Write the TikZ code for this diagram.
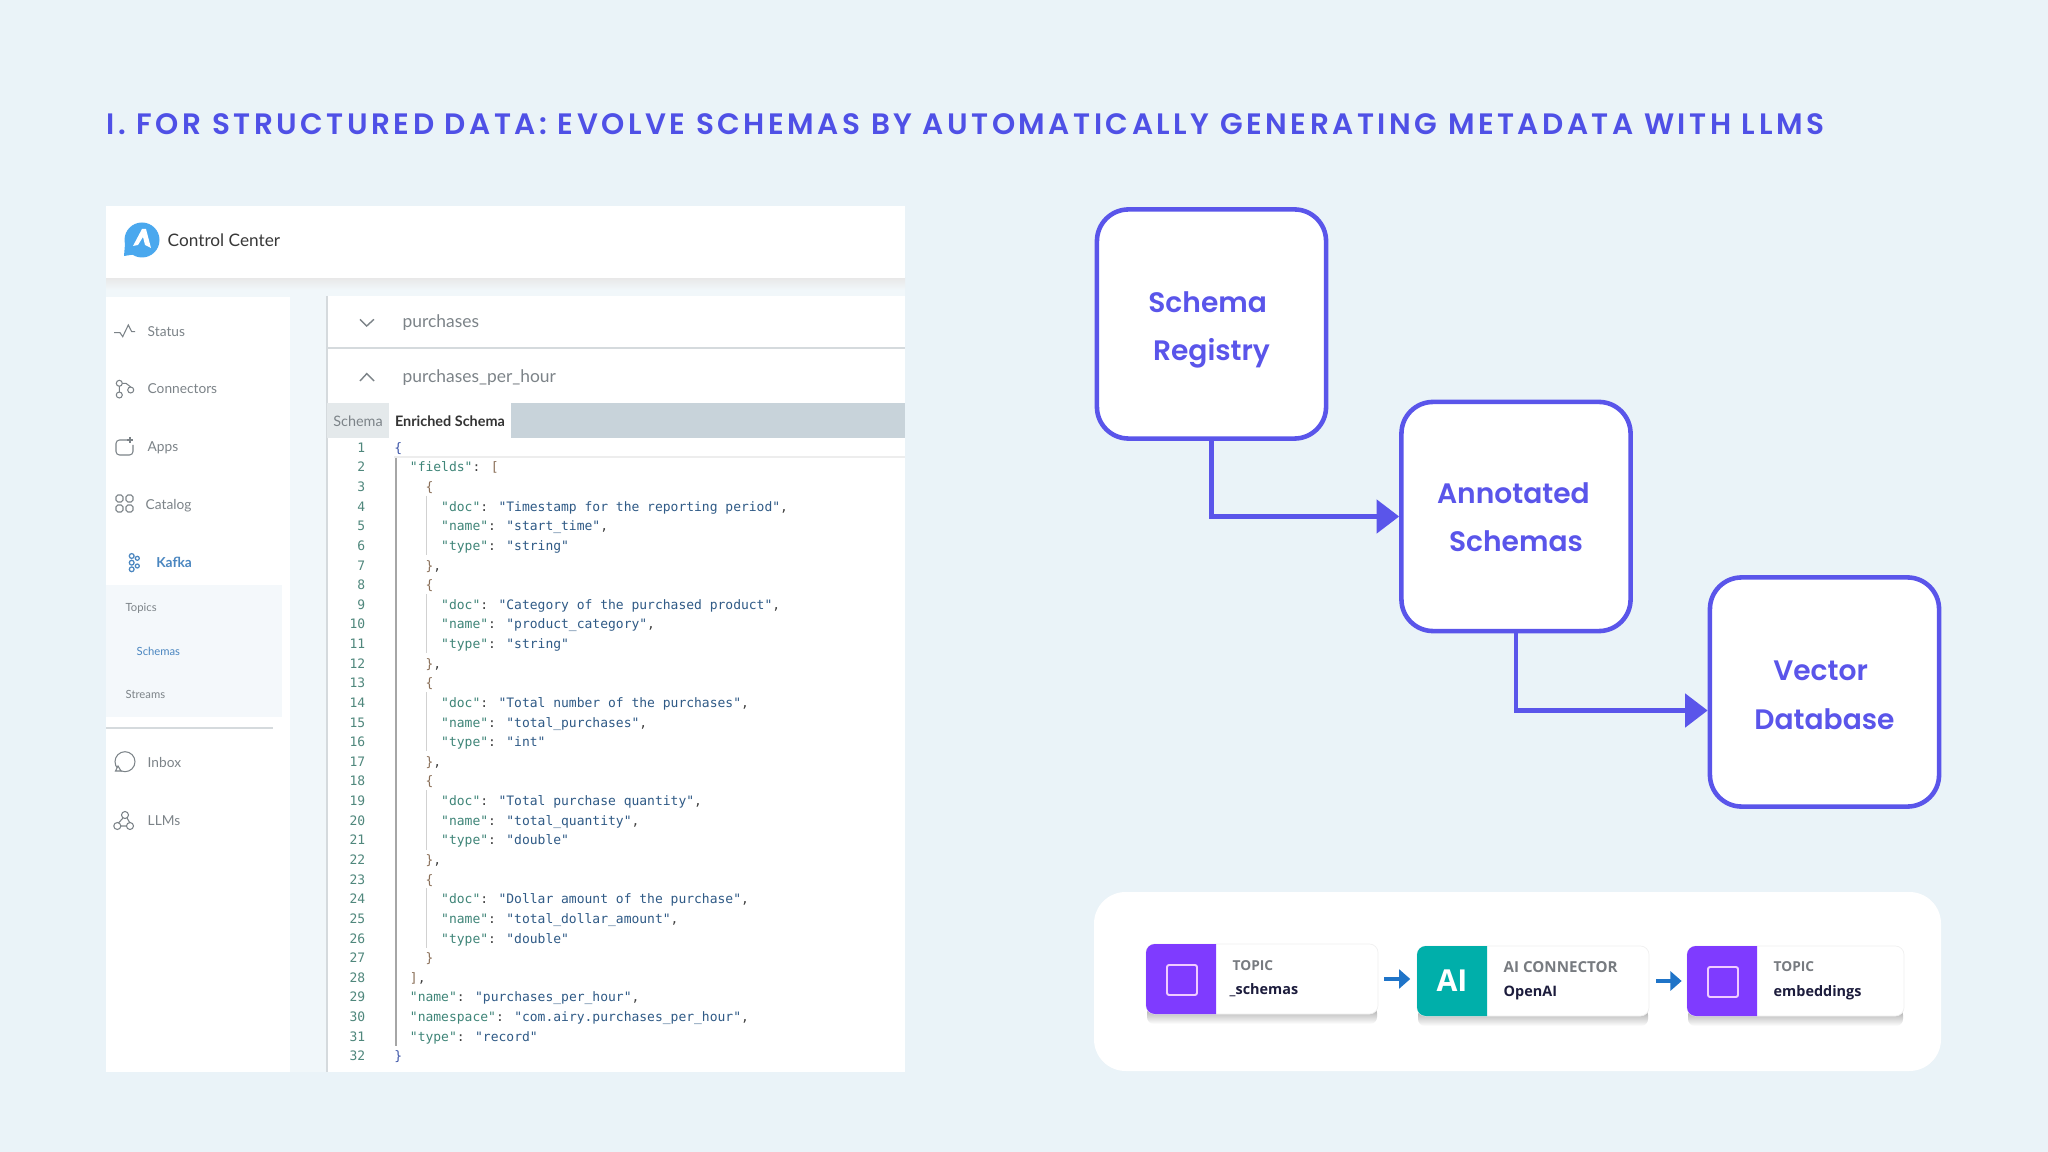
\documentclass[tikz,border=0pt]{standalone}
\usepackage{fontspec}
\usepackage{tikz}
\usetikzlibrary{arrows.meta}
\setmainfont{Lato}
\newfontfamily\dmfont[BoldFont={Poppins SemiBold}]{Poppins}
\newfontfamily\titlefont[LetterSpace=11.9,BoldFont={Poppins SemiBold}]{Poppins}
\newfontfamily\codefont{DejaVu Sans Mono}
\newfontfamily\cardfont{Open Sans}
\definecolor{pagebg}{HTML}{EAF3F8}
\definecolor{indigo}{HTML}{5A55EA}
\definecolor{titleblue}{HTML}{4F50E6}
\definecolor{gapblue}{HTML}{F1F7FA}
\definecolor{subbg}{HTML}{F4F8FB}
\definecolor{uigrey}{HTML}{7C8388}
\definecolor{uiline}{HTML}{D5DADD}
\definecolor{tabgrey}{HTML}{C8D3DA}
\definecolor{tablight}{HTML}{E4E9EB}
\definecolor{kafkablue}{HTML}{4A86C0}
\definecolor{logoblue}{HTML}{4AA8EE}
\definecolor{numgreen}{HTML}{4F877C}
\definecolor{keygreen}{HTML}{3F8578}
\definecolor{strblue}{HTML}{2F5A86}
\definecolor{bracebrown}{HTML}{8A6F58}
\definecolor{braceblue}{HTML}{3C55A8}
\definecolor{cardpurple}{HTML}{7F3BFF}
\definecolor{cardteal}{HTML}{00AFAA}
\definecolor{cardlav}{HTML}{F0CCFF}
\definecolor{arrowblue}{HTML}{1F74C8}
\definecolor{cardgrey}{HTML}{777B80}
\definecolor{cardink}{HTML}{1C1C3C}

\tikzset{
	flowbox/.style={draw=indigo,fill=white,line width=1.3pt,rounded corners=9pt,minimum width=2.29cm,minimum height=2.29cm,inner sep=0pt,align=center,text=indigo,font=\dmfont\bfseries\fontsize{8}{13.7}\selectfont},
	flowarrow/.style={draw=indigo,line width=1.3pt,->},
	card/.style={fill=white,draw=black!6,line width=.2pt,rounded corners=2.5pt,inner sep=0pt,minimum height=.7cm},
	cardshadow/.style={top color=black!38,bottom color=white,rounded corners=2pt},
	cardarrow/.style={draw=arrowblue,line width=1.1pt,-{Triangle[length=3.2pt,width=5.4pt]}},
	cardlabel/.style={anchor=west,inner sep=0pt,font=\cardfont\bfseries\fontsize{4.3}{5}\selectfont,text=cardgrey},
	cardname/.style={anchor=west,inner sep=0pt,font=\cardfont\bfseries\fontsize{4.1}{5}\selectfont,text=cardink},
	menuitem/.style={anchor=west,inner sep=0pt,text=uigrey,text height=3.2pt,text depth=.4pt,font=\fontsize{3.9}{5}\selectfont},
	submenu/.style={anchor=west,inner sep=0pt,text=uigrey,text height=3pt,text depth=.4pt,font=\fontsize{3.2}{4}\selectfont},
	rowlabel/.style={anchor=west,inner sep=0pt,text=uigrey,text height=3.4pt,text depth=.4pt,font=\fontsize{4.95}{6}\selectfont},
	tablabel/.style={inner sep=0pt,text height=3.4pt,text depth=.4pt,font=\fontsize{4.1}{5}\selectfont},
	icon/.style={draw=uigrey,line width=.3pt},
	linenum/.style={anchor=east,inner sep=0pt,text=numgreen,text height=3.4pt,text depth=.4pt,font=\codefont\fontsize{3.7}{4}\selectfont},
	codetext/.style={anchor=west,inner sep=0pt,text=black!75,text height=3.4pt,text depth=.4pt,font=\codefont\fontsize{3.695}{4}\selectfont},
	guide/.style={draw=black!18,line width=.25pt}
}

\newcommand{\ck}[1]{\textcolor{keygreen}{#1}}
\newcommand{\cs}[1]{\textcolor{strblue}{#1}}
\newcommand{\cb}[1]{\textcolor{bracebrown}{#1}}
\newcommand{\flowend}{\rule[-1.6pt]{0pt}{1.6pt}}
\newcommand{\codeline}[3]{
	\node[linenum] (num#1) at (366,{447+19.63*(#1-1)}) {#1};
	\node[codetext] (code#1) at ({393.6+7.82*#2},{447+19.63*(#1-1)}) {#3};
}
\newcommand{\fieldguide}[1]{
	\draw[guide] (426.8,{437+19.63*(#1-1)})--(426.8,{457+19.63*(#1+1)});
}

\begin{document}
\begin{tikzpicture}[>={Triangle[length=6.4pt,width=9.4pt]},x=.01cm,y=-.01cm]

	\useasboundingbox (0,0) rectangle (2048,1152);
	\fill[pagebg] (0,0) rectangle (2048,1152);

	\node[anchor=west,inner sep=0pt,text=titleblue,font=\titlefont\bfseries\fontsize{8.4}{10}\selectfont] (title) at (106,124.5) {I. FOR STRUCTURED DATA: EVOLVE SCHEMAS BY AUTOMATICALLY GENERATING METADATA WITH LLMS};

	% control center
	\fill[gapblue] (106,278) rectangle (905,1072);
	\shade[top color=black!9,bottom color=gapblue] (106,278) rectangle (905,290);
	\fill[white] (106,206) rectangle (905,278);
	\fill[white] (106,297) rectangle (290,1072);
	\fill[white] (327,296) rectangle (905,1072);
	\fill[subbg] (106,585) rectangle (282,717);
	\draw[uiline,line width=.3pt] (106,728)--(273,728);
	\draw[uiline,line width=.4pt] (327,296)--(327,1072);
	\draw[uiline,line width=.3pt] (327,348)--(905,348);

	% logo
	\fill[logoblue] (142,240) circle (17.5);
	\fill[logoblue] (125,244)--(124,256)--(137,254)--cycle;
	\fill[white] (133,246)--(142,229)--(146,229)--(151,248)--(145,245)--(143,237)--(138,245)--cycle;
	\node[anchor=west,inner sep=0pt,text=black!78,text height=3.9pt,text depth=.4pt,font=\fontsize{4.9}{6}\selectfont] (centertitle) at (167,240) {Control Center};

	% sidebar
	\draw[icon] (114,332.7)--(120,332.7)--(122.7,336.7)--(128.3,325)--(131.7,331.7)--(135,331.7);
	\node[menuitem] (status) at (147,332) {Status};
	\draw[icon] (119.3,383.3) circle (3) (119.3,395) circle (3) (130.7,390) circle (3);
	\draw[icon] (119.3,386.3)--(119.3,392) (122.3,383.3)--(126,383.3)--(130.7,387);
	\node[menuitem] (connectors) at (147,389) {Connectors};
	\draw[icon,rounded corners=1pt] (128,440)--(116,440)--(116,455)--(133,455)--(133,445);
	\draw[icon] (130,437)--(130,443) (127,440)--(133,440);
	\node[menuitem] (apps) at (147,447) {Apps};
	\draw[icon,rounded corners=.5pt] (116,495) rectangle (123,502) (126,495) rectangle (133,502) (116,505) rectangle (123,512) (126,505) rectangle (133,512);
	\node[menuitem] (catalog) at (145,505) {Catalog};
	\draw[draw=kafkablue,line width=.35pt] (131.7,556) circle (2.4) (131.7,562.7) circle (2.4) (131.7,569.3) circle (2.4) (137.3,558.3) circle (2) (137.3,566) circle (2);
	\node[menuitem,text=kafkablue,font=\bfseries\fontsize{3.9}{5}\selectfont] (kafka) at (155.6,563) {Kafka};
	\node[submenu] (topics) at (125,607) {Topics};
	\node[submenu,text=kafkablue] (schemas) at (136,651) {Schemas};
	\node[submenu] (streams) at (125,694) {Streams};
	\draw[icon] (125,761.7) circle (10);
	\draw[icon,fill=white] (115.5,771)--(121,771)--(118,766)--cycle;
	\node[menuitem] (inbox) at (147,763) {Inbox};
	\draw[icon] (125,815) circle (3.5) (117.3,826) circle (3.5) (130,826) circle (3.5);
	\draw[icon] (123,818)--(118.5,823) (120.8,826)--(126.5,826) (127,818)--(130,823);
	\node[menuitem] (llms) at (147,821) {LLMs};

	% schema rows
	\draw[uigrey,line width=.4pt] (360,319.3)--(366.7,326)--(374,319.3);
	\node[rowlabel] (purchases) at (402,322) {purchases};
	\draw[uigrey,line width=.4pt] (360,381)--(366.7,373.7)--(374,381);
	\node[rowlabel] (purchasesperhour) at (402,377) {purchases\_per\_hour};

	% tabs
	\fill[tabgrey] (511,403) rectangle (905,438);
	\fill[tablight] (327,403) rectangle (389,438);
	\node[tablabel,text=uigrey] (schematab) at (358,421) {Schema};
	\node[tablabel,text=black!80,font=\bfseries\fontsize{4.1}{5}\selectfont] (enrichedtab) at (450,421) {Enriched Schema};

	% code
	\draw[black!7,line width=.3pt] (394,457)--(905,457);
	\draw[black!35,line width=.4pt] (396,458)--(396,1046);
	\fieldguide{4}
	\fieldguide{9}
	\fieldguide{14}
	\fieldguide{19}
	\fieldguide{24}

	\codeline{1}{0}{\textcolor{braceblue}{\{}}
	\codeline{2}{2}{\ck{"fields"}: \cb{[}}
	\codeline{3}{4}{\cb{\{}}
	\codeline{4}{6}{\ck{"doc"}: \cs{"Timestamp for the reporting period"},}
	\codeline{5}{6}{\ck{"name"}: \cs{"start\_time"},}
	\codeline{6}{6}{\ck{"type"}: \cs{"string"}}
	\codeline{7}{4}{\cb{\}},}
	\codeline{8}{4}{\cb{\{}}
	\codeline{9}{6}{\ck{"doc"}: \cs{"Category of the purchased product"},}
	\codeline{10}{6}{\ck{"name"}: \cs{"product\_category"},}
	\codeline{11}{6}{\ck{"type"}: \cs{"string"}}
	\codeline{12}{4}{\cb{\}},}
	\codeline{13}{4}{\cb{\{}}
	\codeline{14}{6}{\ck{"doc"}: \cs{"Total number of the purchases"},}
	\codeline{15}{6}{\ck{"name"}: \cs{"total\_purchases"},}
	\codeline{16}{6}{\ck{"type"}: \cs{"int"}}
	\codeline{17}{4}{\cb{\}},}
	\codeline{18}{4}{\cb{\{}}
	\codeline{19}{6}{\ck{"doc"}: \cs{"Total purchase quantity"},}
	\codeline{20}{6}{\ck{"name"}: \cs{"total\_quantity"},}
	\codeline{21}{6}{\ck{"type"}: \cs{"double"}}
	\codeline{22}{4}{\cb{\}},}
	\codeline{23}{4}{\cb{\{}}
	\codeline{24}{6}{\ck{"doc"}: \cs{"Dollar amount of the purchase"},}
	\codeline{25}{6}{\ck{"name"}: \cs{"total\_dollar\_amount"},}
	\codeline{26}{6}{\ck{"type"}: \cs{"double"}}
	\codeline{27}{4}{\cb{\}}}
	\codeline{28}{2}{\cb{]},}
	\codeline{29}{2}{\ck{"name"}: \cs{"purchases\_per\_hour"},}
	\codeline{30}{2}{\ck{"namespace"}: \cs{"com.airy.purchases\_per\_hour"},}
	\codeline{31}{2}{\ck{"type"}: \cs{"record"}}
	\codeline{32}{0}{\textcolor{braceblue}{\}}}

	% flow
	\node[flowbox] (registry) at (1211.5,324) {\rule{0pt}{9.4pt}Schema\kern2.2pt\\Registry\flowend};
	\node[flowbox] (annotated) at (1516,516.5) {\rule{0pt}{7.9pt}Annotated\kern1.5pt\\Schemas\flowend};
	\node[flowbox] (vectordb) at (1824.5,692) {\rule{0pt}{9pt}Vector\kern2.2pt\\Database\flowend};
	\draw[flowarrow] (registry.south)|-(annotated.west);
	\draw[flowarrow] (annotated.south)|-([yshift=-18.5*.01cm]vectordb.west);

	% pipeline
	\fill[white,rounded corners=9pt] (1094,892) rectangle (1941,1071);
	\shade[cardshadow] (1147,1006) rectangle (1377,1024);
	\shade[cardshadow] (1418,1008) rectangle (1648,1026);
	\shade[cardshadow] (1688,1008) rectangle (1903,1026);
	\node[card,minimum width=2.32cm] (schemascard) at (1262,979) {};
	\node[card,minimum width=2.32cm] (connectorcard) at (1533,981) {};
	\node[card,minimum width=2.17cm] (embedcard) at (1795.5,981) {};
	\fill[cardpurple] (1216,944) [rounded corners=2.5pt] --(1146,944)--(1146,1014) [sharp corners] --(1216,1014)--cycle;
	\fill[cardteal] (1487,946) [rounded corners=2.5pt] --(1417,946)--(1417,1016) [sharp corners] --(1487,1016)--cycle;
	\fill[cardpurple] (1757,946) [rounded corners=2.5pt] --(1687,946)--(1687,1016) [sharp corners] --(1757,1016)--cycle;
	\draw[cardlav,line width=.55pt,rounded corners=.6pt] (1167,965) rectangle (1197,995);
	\draw[cardlav,line width=.55pt,rounded corners=.6pt] (1708,967) rectangle (1738,997);
	\node[inner sep=0pt,text=white,font=\cardfont\bfseries\fontsize{8.6}{10}\selectfont] (ailabel) at (1452,981) {AI};

	\node[cardlabel,font=\cardfont\bfseries\fontsize{3.9}{5}\selectfont] (topicone) at (1232,966) {TOPIC};
	\node[cardname] (schemasname) at (1229,990) {\_schemas};
	\node[cardlabel] (aiconnector) at (1503,967) {AI CONNECTOR};
	\node[cardname] (openai) at (1503,993) {OpenAI};
	\node[cardlabel,font=\cardfont\bfseries\fontsize{3.9}{5}\selectfont] (topictwo) at (1773,967) {TOPIC};
	\node[cardname] (embeddings) at (1773,993) {embeddings};

	\draw[cardarrow,shorten <=1.6pt,shorten >=1.8pt] (schemascard.east)--(schemascard.east-|connectorcard.west);
	\draw[cardarrow,shorten <=1.9pt,shorten >=1.4pt] (connectorcard.east)--(embedcard.west);

\end{tikzpicture}
\end{document}
